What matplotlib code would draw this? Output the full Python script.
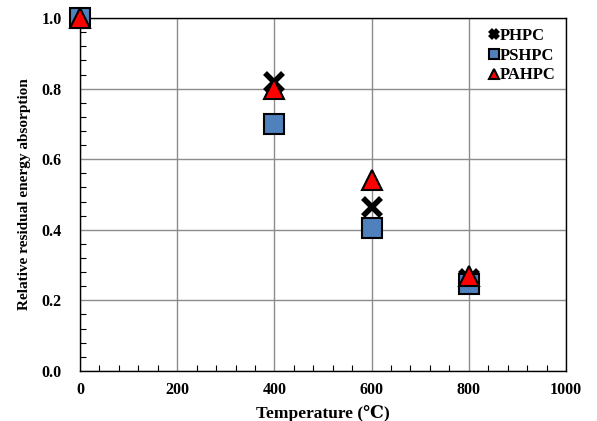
import matplotlib
matplotlib.use("Agg")
import matplotlib.pyplot as plt
from matplotlib.ticker import MultipleLocator, FormatStrFormatter

temps = [0, 400, 600, 800]
phpc = [1.0, 0.82, 0.465, 0.26]
pshpc = [1.0, 0.70, 0.405, 0.245]
pahpc = [1.0, 0.80, 0.54, 0.27]

plt.rcParams['font.family'] = ['Liberation Serif', 'DejaVu Serif']
plt.rcParams['font.weight'] = 'bold'

fig = plt.figure(figsize=(5.97, 4.21), dpi=100)
ax = fig.add_axes([0.134, 0.119, 0.814, 0.838])

ax.plot(temps, phpc, linestyle='none', marker='x', ms=13, mew=4, color='black', label='PHPC', zorder=3, clip_on=False)
ax.plot(temps, pshpc, linestyle='none', marker='s', ms=14.5, mew=1.5, mfc='#4f81bd', mec='black', label='PSHPC', zorder=4, clip_on=False)
ax.plot(temps, pahpc, linestyle='none', marker='^', ms=15, mew=1.5, mfc='#ff0000', mec='black', label='PAHPC', zorder=5, clip_on=False)

ax.set_xlim(0, 1000)
ax.set_ylim(0.0, 1.0)
ax.xaxis.set_major_locator(MultipleLocator(200))
ax.xaxis.set_minor_locator(MultipleLocator(40))
ax.yaxis.set_major_locator(MultipleLocator(0.2))
ax.yaxis.set_minor_locator(MultipleLocator(0.04))
ax.yaxis.set_major_formatter(FormatStrFormatter('%.1f'))
ax.tick_params(which='both', direction='in', labelsize=11.5)
ax.tick_params(axis='y', which='major', length=0, pad=13)
ax.tick_params(axis='x', which='major', length=0, pad=8)
ax.tick_params(which='minor', length=4, width=0.8)
ax.grid(True, which='major', color='#8c8c8c', linewidth=1.0)
ax.set_axisbelow(True)
for s in ax.spines.values():
    s.set_linewidth(1.0)
for lab in ax.get_xticklabels() + ax.get_yticklabels():
    lab.set_fontweight('bold')

ax.set_xlabel('Temperature (\u2103)', fontsize=12.5, fontweight='bold', labelpad=5)
ax.set_ylabel('Relative residual energy absorption', fontsize=11, fontweight='bold', labelpad=8)

leg = ax.legend(loc='upper right', frameon=False, fontsize=12, handlelength=0.5, handletextpad=0.15,
                labelspacing=0.22, borderaxespad=0.2, markerscale=0.45)
for t in leg.get_texts():
    t.set_fontweight('bold')

fig.savefig('out.png', dpi=100)
